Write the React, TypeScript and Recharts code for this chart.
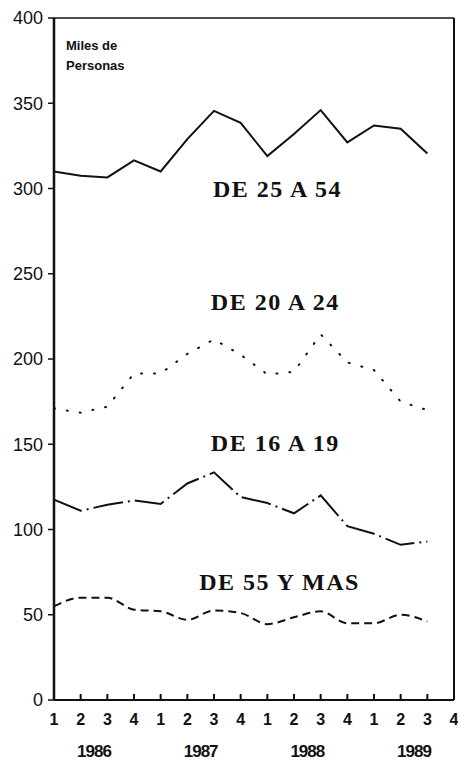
import React from 'react';
import { LineChart, Line, XAxis, YAxis, ReferenceDot } from 'recharts';

// quarterly series, 1986 Q1 .. 1989 Q3 (thousands of persons)
const years = ['1986', '1987', '1988', '1989'];
const de25a54 = [310, 307.5, 306.5, 316.5, 310, 329, 345.5, 338.5, 319, 332, 346, 327, 337, 335, 320.5];
const de20a24 = [171, 168.5, 172, 191.5, 191.5, 203, 211.5, 202.5, 191, 192.5, 214.5, 198, 193.5, 175, 170];
const de16a19 = [117.5, 111, 114.5, 117, 115, 127, 133.5, 119, 115.5, 109.5, 120, 102, 97.5, 91, 93];
const de55ymas = [55, 60, 60, 53, 52, 47, 52.5, 51, 44.5, 48.5, 52, 45, 45, 50, 46];

const seriesNames = ['DE 25 A 54', 'DE 20 A 24', 'DE 16 A 19', 'DE 55 Y MAS'];
const unitLines = ['Miles de', 'Personas'];

const yTicks = [0, 50, 100, 150, 200, 250, 300, 350, 400];
const xTicks = Array.from({ length: 16 }, (_, i) => i);
const yearTicks = [1.5, 5.5, 9.5, 13.5];

const data = de25a54.map((v, i) => ({
    i,
    de25a54: v,
    de20a24: de20a24[i],
    de16a19: de16a19[i],
    de55ymas: de55ymas[i],
}));

// where the text labels sit, in axis units
const labelPos = [
    { x: 8.38, y: 300 },
    { x: 8.3, y: 233.5 },
    { x: 8.3, y: 150.5 },
    { x: 8.46, y: 69 },
];
const unitPos = [
    { x: 0.45, y: 384 },
    { x: 0.45, y: 372 },
];

const INK = '#111';
const QMARGIN = 14;

const QuarterTick = (props: any) => {
    const { x, y, payload } = props;
    return (
        <g>
            <line x1={x} y1={y - QMARGIN} x2={x} y2={y - QMARGIN - 6} stroke={INK} strokeWidth={2} />
            <text x={x} y={y} dy="0.71em" textAnchor="middle" fill={INK}
                style={{ fontFamily: '"Liberation Sans", Arial, sans-serif', fontSize: 16, fontWeight: 700 }}>
                {(payload.value % 4) + 1}
            </text>
        </g>
    );
};

const seriesLabel = (text: string) => (p: any) => (
    <text x={p.cx} y={p.cy} textAnchor="middle" dominantBaseline="central" fill={INK}
        style={{ fontFamily: '"Liberation Serif", serif', fontSize: 24, fontWeight: 700, letterSpacing: 1.5 }}>
        {text}
    </text>
);

const unitLabel = (text: string) => (p: any) => (
    <text x={p.cx} y={p.cy} dominantBaseline="central" fill={INK}
        style={{ fontFamily: '"Liberation Sans", Arial, sans-serif', fontSize: 13, fontWeight: 700 }}>
        {text}
    </text>
);

export default function App() {
    return (
        <div style={{ position: 'absolute', left: 0, top: 0, width: 458, height: 761, background: '#fff' }}>
            <LineChart width={458} height={761} data={data} margin={{ top: 0, right: 0, bottom: 0, left: 0 }}>
                <XAxis xAxisId="top" orientation="top" type="number" dataKey="i" domain={[0, 15]}
                    height={18} tick={false} tickLine={false} axisLine={{ stroke: INK, strokeWidth: 1.5 }} />
                <XAxis type="number" dataKey="i" domain={[0, 15]} ticks={xTicks} interval={0}
                    height={28} tickSize={0} tickMargin={QMARGIN} tickLine={false}
                    axisLine={{ stroke: INK, strokeWidth: 2 }} tick={<QuarterTick />} />
                <XAxis xAxisId="year" type="number" dataKey="i" domain={[0, 15]} ticks={yearTicks} interval={0}
                    height={33} tickSize={0} tickMargin={17} tickLine={false} axisLine={false}
                    tickFormatter={(v: number) => years[Math.floor(v / 4)]}
                    tick={{ fill: INK, fontFamily: '"Liberation Sans", Arial, sans-serif', fontSize: 17, fontWeight: 700, letterSpacing: -1 }} />
                <YAxis type="number" domain={[0, 400]} ticks={yTicks} interval={0} width={54}
                    tickSize={6} tickMargin={5}
                    axisLine={{ stroke: INK, strokeWidth: 2.5 }} tickLine={{ stroke: INK, strokeWidth: 1.5 }}
                    tick={{ fill: INK, fontFamily: '"Liberation Sans", Arial, sans-serif', fontSize: 18 }} />
                <YAxis yAxisId="right" orientation="right" type="number" domain={[0, 400]} width={4}
                    tick={false} tickLine={false} axisLine={{ stroke: INK, strokeWidth: 2 }} />

                <Line type="linear" dataKey="de25a54" stroke={INK} strokeWidth={2} dot={false} isAnimationActive={false} />
                <Line type="linear" dataKey="de20a24" stroke={INK} strokeWidth={2} strokeDasharray="1 12"
                    strokeLinecap="round" dot={false} isAnimationActive={false} />
                <Line type="linear" dataKey="de16a19" stroke={INK} strokeWidth={2} strokeDasharray="30 5 2 5"
                    dot={false} isAnimationActive={false} />
                <Line type="monotone" dataKey="de55ymas" stroke={INK} strokeWidth={2} strokeDasharray="8 5"
                    dot={false} isAnimationActive={false} />

                {seriesNames.map((name, k) => (
                    <ReferenceDot key={name} x={labelPos[k].x} y={labelPos[k].y} r={0}
                        shape={seriesLabel(name)} />
                ))}
                {unitLines.map((t, k) => (
                    <ReferenceDot key={t} x={unitPos[k].x} y={unitPos[k].y} r={0}
                        shape={unitLabel(t)} />
                ))}
            </LineChart>
        </div>
    );
}
